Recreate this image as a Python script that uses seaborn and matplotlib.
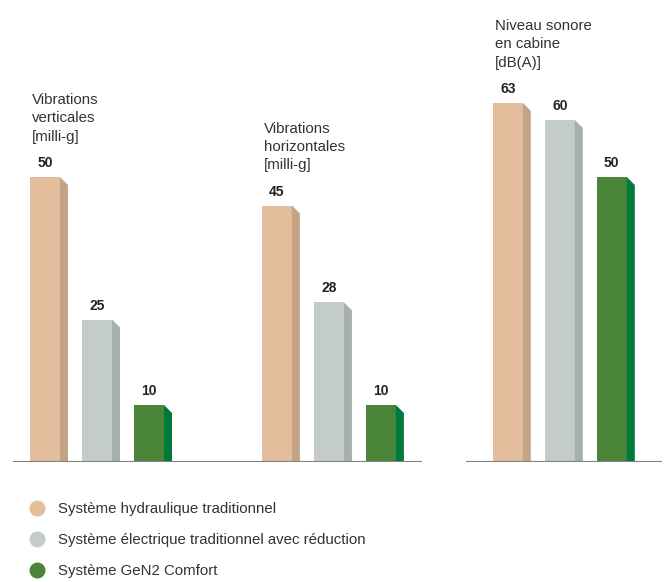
import matplotlib
matplotlib.use("Agg")
import matplotlib.pyplot as plt
import pandas as pd
import seaborn as sns
from matplotlib.colors import to_hex
from matplotlib.lines import Line2D
from matplotlib.patches import Polygon

# ---- data ----
groups = [
    "Vibrations\nverticales\n[milli-g]",
    "Vibrations\nhorizontales\n[milli-g]",
    "Niveau sonore\nen cabine\n[dB(A)]",
]
systems = [
    "Système hydraulique traditionnel",
    "Système électrique traditionnel avec réduction",
    "Système GeN2 Comfort",
]
hydraulique = [50, 45, 63]
electrique = [25, 28, 60]
gen2 = [10, 10, 50]

# ---- style / layout ----
FRONT = ["#E3BD9C", "#C4CCCA", "#4A8438"]
SIDE = ["#C4A487", "#A8B0AE", "#007A3C"]
BASE_COLOR = "#808080"
TEXT_COLOR = "#333333"

W, H, DPI = 665, 582, 100
PX_PER_UNIT = 5.7       # vertical scale, pixels per value unit
PX_PER_SLOT = 52        # horizontal distance between neighbouring bars
BASE_PX = 120           # baseline height from figure bottom
FIRST_PX = 45           # centre of first bar from left edge
GROUP_START = [0, 4.46, 8.9]   # slot where each group begins
BAR_WIDTH = 30 / PX_PER_SLOT
SIDE_DX = 8 / PX_PER_SLOT
SIDE_DY = 8 / PX_PER_UNIT
BASELINES = [(-0.615, 7.25), (8.10, 11.87)]

FONT = ["Liberation Sans", "DejaVu Sans"]

rows = []
for g, start in enumerate(GROUP_START):
    for i, (name, vals) in enumerate(zip(systems, [hydraulique, electrique, gen2])):
        rows.append({"pos": start + i, "value": vals[g], "system": name, "group": g})
df = pd.DataFrame(rows)

sns.set_style("white")
plt.rcParams["font.family"] = FONT

fig = plt.figure(figsize=(W / DPI, H / DPI), dpi=DPI)
ax = fig.add_axes([0, BASE_PX / H, 1, (H - BASE_PX) / H])

sns.barplot(
    data=df, x="pos", y="value", hue="system", hue_order=systems,
    palette=FRONT, native_scale=True, dodge=False, width=BAR_WIDTH,
    saturation=1, errorbar=None, legend=False, ax=ax, linewidth=0,
)

ax.set_xlim(-FIRST_PX / PX_PER_SLOT, (W - FIRST_PX) / PX_PER_SLOT)
ax.set_ylim(0, (H - BASE_PX) / PX_PER_UNIT)
ax.axis("off")

# 3D side faces
side_map = {to_hex(f).lower(): s for f, s in zip(FRONT, SIDE)}
for p in list(ax.patches):
    x1 = p.get_x() + p.get_width()
    top = p.get_height()
    col = side_map[to_hex(p.get_facecolor()).lower()]
    ax.add_patch(Polygon(
        [(x1, top), (x1 + SIDE_DX, top - SIDE_DY), (x1 + SIDE_DX, 0), (x1, 0)],
        closed=True, facecolor=col, edgecolor="none", zorder=p.get_zorder(),
    ))

# value labels
for cont in ax.containers:
    ax.bar_label(cont, padding=5, fontsize=10, fontweight="bold",
                 color="#222222", family=FONT)

# group titles
for g, title in enumerate(groups):
    sub = df[df["group"] == g]
    left = sub["pos"].min() - BAR_WIDTH / 2
    top = sub["value"].iloc[0]
    ax.annotate(title, (left, top), xytext=(1.5, 26), textcoords="offset points",
                ha="left", va="baseline", fontsize=10.8, color=TEXT_COLOR,
                linespacing=1.4, family=FONT)

# baselines
for x0, x1 in BASELINES:
    ax.hlines(0, x0, x1, color=BASE_COLOR, linewidth=1.5, zorder=5)

# legend
handles = [Line2D([], [], linestyle="none", marker="o", markersize=11.5,
                  markerfacecolor=c, markeredgecolor="none") for c in FRONT]
fig.legend(handles, systems, loc="upper left",
           bbox_to_anchor=(29 / W, 1 - 502 / H), frameon=False,
           borderpad=0, borderaxespad=0, handlelength=1.0, handletextpad=0.95,
           labelspacing=1.15, labelcolor=TEXT_COLOR,
           prop={"family": FONT, "size": 10.8})

fig.savefig("out.png", dpi=DPI)
